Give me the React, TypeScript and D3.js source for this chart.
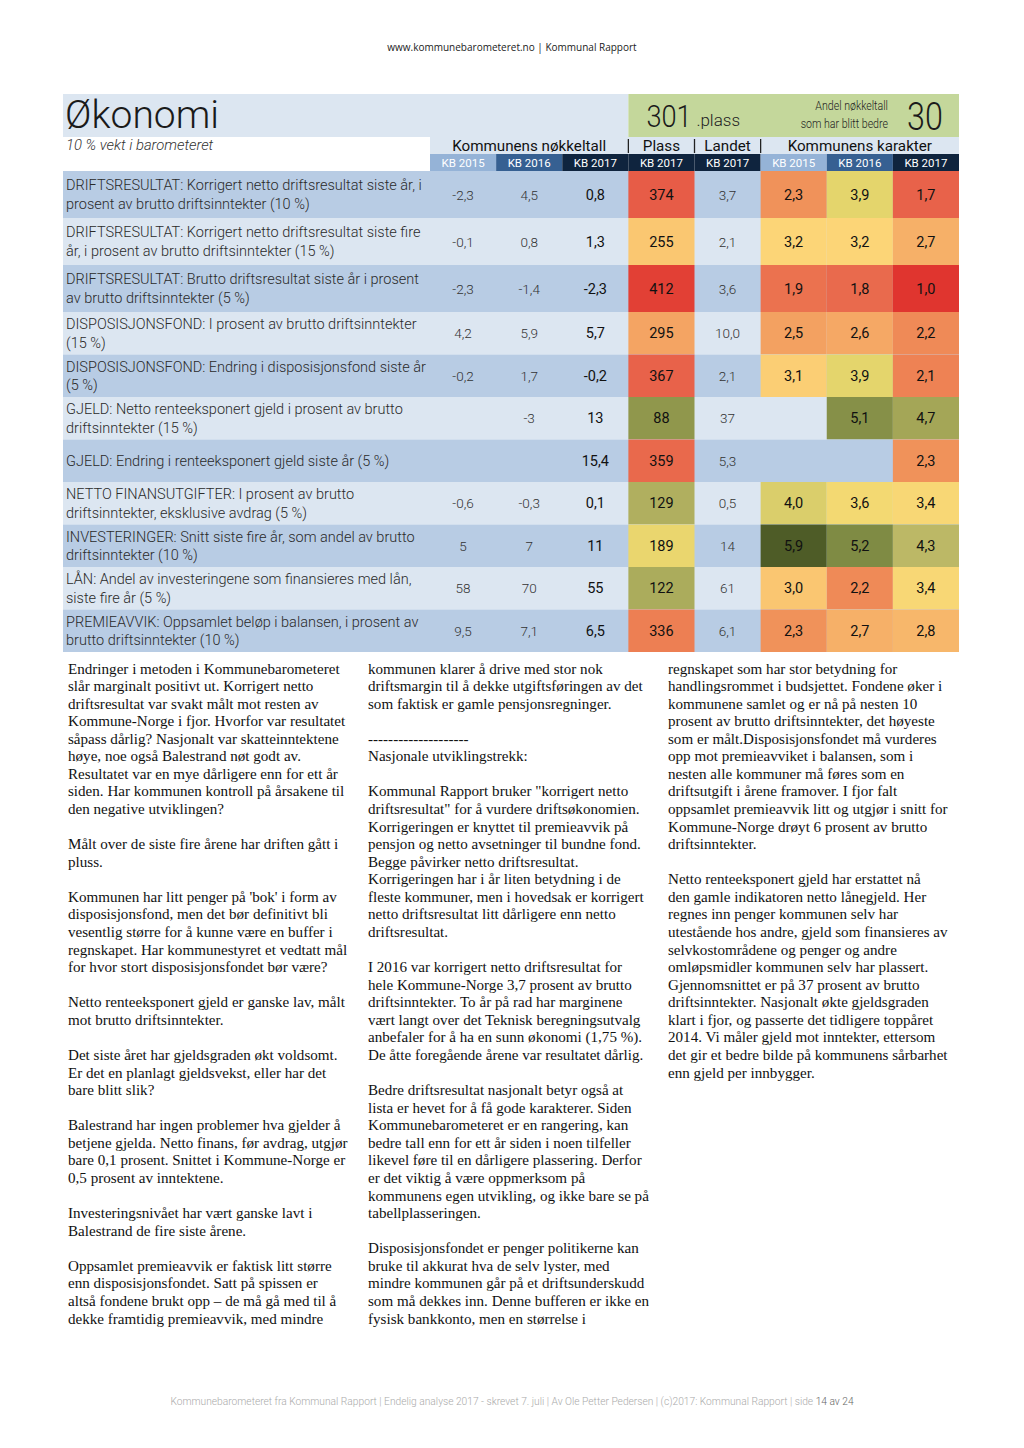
import React from "react";
import * as d3 from "d3";

// ---------- DATA ----------
const pageHeader = "www.kommunebarometeret.no | Kommunal Rapport";
const sectionTitle = "Økonomi";
const weightNote = "10 % vekt i barometeret";
const rankValue = 301;
const rankSuffix = ".plass";
const improvedLabel = ["Andel nøkkeltall", "som har blitt bedre"];
const improvedValue = 30;
const groupHeaders = ["Kommunens nøkkeltall", "Plass", "Landet", "Kommunens karakter"];
const groupSpans = [3, 1, 1, 3];
const columnHeaders = ["KB 2015", "KB 2016", "KB 2017", "KB 2017", "KB 2017", "KB 2015", "KB 2016", "KB 2017"];

const indicatorLabels: string[][] = [
  ["DRIFTSRESULTAT: Korrigert netto driftsresultat siste år, i", "prosent av brutto driftsinntekter (10 %)"],
  ["DRIFTSRESULTAT: Korrigert netto driftsresultat siste fire", "år, i prosent av brutto driftsinntekter (15 %)"],
  ["DRIFTSRESULTAT: Brutto driftsresultat siste år i prosent", "av brutto driftsinntekter (5 %)"],
  ["DISPOSISJONSFOND: I prosent av brutto driftsinntekter", "(15 %)"],
  ["DISPOSISJONSFOND: Endring i disposisjonsfond siste år", "(5 %)"],
  ["GJELD: Netto renteeksponert gjeld i prosent av brutto", "driftsinntekter (15 %)"],
  ["GJELD: Endring i renteeksponert gjeld siste år (5 %)"],
  ["NETTO FINANSUTGIFTER: I prosent av brutto", "driftsinntekter, eksklusive avdrag (5 %)"],
  ["INVESTERINGER: Snitt siste fire år, som andel av brutto", "driftsinntekter (10 %)"],
  ["LÅN: Andel av investeringene som finansieres med lån,", "siste fire år (5 %)"],
  ["PREMIEAVVIK: Oppsamlet beløp i balansen, i prosent av", "brutto driftsinntekter (10 %)"],
];
const valueDecimals = [1, 1, 1, 1, 1, 0, 1, 1, 0, 0, 1];
const nokkel2015: (number | null)[] = [-2.3, -0.1, -2.3, 4.2, -0.2, null, null, -0.6, 5, 58, 9.5];
const nokkel2016: (number | null)[] = [4.5, 0.8, -1.4, 5.9, 1.7, -3, null, -0.3, 7, 70, 7.1];
const nokkel2017: (number | null)[] = [0.8, 1.3, -2.3, 5.7, -0.2, 13, 15.4, 0.1, 11, 55, 6.5];
const plass2017: number[] = [374, 255, 412, 295, 367, 88, 359, 129, 189, 122, 336];
const landet2017: number[] = [3.7, 2.1, 3.6, 10.0, 2.1, 37, 5.3, 0.5, 14, 61, 6.1];
const karakter2015: (number | null)[] = [2.3, 3.2, 1.9, 2.5, 3.1, null, null, 4.0, 5.9, 3.0, 2.3];
const karakter2016: (number | null)[] = [3.9, 3.2, 1.8, 2.6, 3.9, 5.1, null, 3.6, 5.2, 2.2, 2.7];
const karakter2017: (number | null)[] = [1.7, 2.7, 1.0, 2.2, 2.1, 4.7, 2.3, 3.4, 4.3, 3.4, 2.8];
const municipalityCount = 426;

const gradeStops = [1.0, 1.7, 2.2, 2.7, 3.2, 3.6, 3.9, 4.3, 4.7, 5.2, 5.9];
const gradeColors = ["#e0352f", "#e8624a", "#ef8a57", "#f6b068", "#fcd577", "#f3d972", "#e4d56c", "#bcb866", "#a4a657", "#7f8b44", "#4e5c27"];

const column1Text = [
  "Endringer i metoden i Kommunebarometeret",
  "slår marginalt positivt ut. Korrigert netto",
  "driftsresultat var svakt målt mot resten av",
  "Kommune-Norge i fjor. Hvorfor var resultatet",
  "såpass dårlig? Nasjonalt var skatteinntektene",
  "høye, noe også Balestrand nøt godt av.",
  "Resultatet var en mye dårligere enn for ett år",
  "siden. Har kommunen kontroll på årsakene til",
  "den negative utviklingen?",
  "",
  "Målt over de siste fire årene har driften gått i",
  "pluss.",
  "",
  "Kommunen har litt penger på 'bok' i form av",
  "disposisjonsfond, men det bør definitivt bli",
  "vesentlig større for å kunne være en buffer i",
  "regnskapet. Har kommunestyret et vedtatt mål",
  "for hvor stort disposisjonsfondet bør være?",
  "",
  "Netto renteeksponert gjeld er ganske lav, målt",
  "mot brutto driftsinntekter.",
  "",
  "Det siste året har gjeldsgraden økt voldsomt.",
  "Er det en planlagt gjeldsvekst, eller har det",
  "bare blitt slik?",
  "",
  "Balestrand har ingen problemer hva gjelder å",
  "betjene gjelda. Netto finans, før avdrag, utgjør",
  "bare 0,1 prosent. Snittet i Kommune-Norge er",
  "0,5 prosent av inntektene.",
  "",
  "Investeringsnivået har vært ganske lavt i",
  "Balestrand de fire siste årene.",
  "",
  "Oppsamlet premieavvik er faktisk litt større",
  "enn disposisjonsfondet. Satt på spissen er",
  "altså fondene brukt opp – de må gå med til å",
  "dekke framtidig premieavvik, med mindre",
];
const column2Text = [
  "kommunen klarer å drive med stor nok",
  "driftsmargin til å dekke utgiftsføringen av det",
  "som faktisk er gamle pensjonsregninger.",
  "",
  "--------------------",
  "Nasjonale utviklingstrekk:",
  "",
  "Kommunal Rapport bruker \"korrigert netto",
  "driftsresultat\" for å vurdere driftsøkonomien.",
  "Korrigeringen er knyttet til premieavvik på",
  "pensjon og netto avsetninger til bundne fond.",
  "Begge påvirker netto driftsresultat.",
  "Korrigeringen har i år liten betydning i de",
  "fleste kommuner, men i hovedsak er korrigert",
  "netto driftsresultat litt dårligere enn netto",
  "driftsresultat.",
  "",
  "I 2016 var korrigert netto driftsresultat for",
  "hele Kommune-Norge 3,7 prosent av brutto",
  "driftsinntekter. To år på rad har marginene",
  "vært langt over det Teknisk beregningsutvalg",
  "anbefaler for å ha en sunn økonomi (1,75 %).",
  "De åtte foregående årene var resultatet dårlig.",
  "",
  "Bedre driftsresultat nasjonalt betyr også at",
  "lista er hevet for å få gode karakterer. Siden",
  "Kommunebarometeret er en rangering, kan",
  "bedre tall enn for ett år siden i noen tilfeller",
  "likevel føre til en dårligere plassering. Derfor",
  "er det viktig å være oppmerksom på",
  "kommunens egen utvikling, og ikke bare se på",
  "tabellplasseringen.",
  "",
  "Disposisjonsfondet er penger politikerne kan",
  "bruke til akkurat hva de selv lyster, med",
  "mindre kommunen går på et driftsunderskudd",
  "som må dekkes inn. Denne bufferen er ikke en",
  "fysisk bankkonto, men en størrelse i",
];
const column3Text = [
  "regnskapet som har stor betydning for",
  "handlingsrommet i budsjettet. Fondene øker i",
  "kommunene samlet og er nå på nesten 10",
  "prosent av brutto driftsinntekter, det høyeste",
  "som er målt.Disposisjonsfondet må vurderes",
  "opp mot premieavviket i balansen, som i",
  "nesten alle kommuner må føres som en",
  "driftsutgift i årene framover. I fjor falt",
  "oppsamlet premieavvik litt og utgjør i snitt for",
  "Kommune-Norge drøyt 6 prosent av brutto",
  "driftsinntekter.",
  "",
  "Netto renteeksponert gjeld har erstattet nå",
  "den gamle indikatoren netto lånegjeld. Her",
  "regnes inn penger kommunen selv har",
  "utestående hos andre, gjeld som finansieres av",
  "selvkostområdene og penger og andre",
  "omløpsmidler kommunen selv har plassert.",
  "Gjennomsnittet er på 37 prosent av brutto",
  "driftsinntekter. Nasjonalt økte gjeldsgraden",
  "klart i fjor, og passerte det tidligere toppåret",
  "2014. Vi måler gjeld mot inntekter, ettersom",
  "det gir et bedre bilde på kommunens sårbarhet",
  "enn gjeld per innbygger.",
];
const footerText = "Kommunebarometeret fra Kommunal Rapport | Endelig analyse 2017 - skrevet 7. juli | Av Ole Petter Pedersen | (c)2017: Kommunal Rapport | side ";
const footerPage = "14 av 24";

// ---------- LAYOUT ----------
const W = 1024, H = 1448;
const tableLeft = 63, tableRight = 959, dataLeft = 430;
const titleTop = 94, groupTop = 137, subTop = 154, rowsTop = 171, tallEnd = 312, tableBottom = 652;
const tallRows = 3;
const COND = "Roboto, 'Liberation Sans', sans-serif";
const SERIF = "'Liberation Serif', 'DejaVu Serif', serif";

const rowBgDark = "#b8cce4";
const rowBgLight = "#dce6f1";
const headerColors = ["#95b3d7", "#366092", "#0f243e", "#0f243e", "#0f243e", "#95b3d7", "#366092", "#0f243e"];

const fmt = (v: number | null, d: number) =>
  v === null ? "" : d3.format(`.${d}f`)(v).replace(".", ",").replace("−", "-");

export default function App() {
  const n = indicatorLabels.length;
  const x = d3.scaleBand<number>().domain(d3.range(8)).range([dataLeft, tableRight]);
  const gradeColor = d3.scaleLinear<string>().domain(gradeStops).range(gradeColors).clamp(true);
  const plassToGrade = d3.scaleLinear().domain([1, municipalityCount]).range([6, 1]);

  // row geometry
  const yTall = d3.scaleBand<number>().domain(d3.range(tallRows)).range([rowsTop, tallEnd]);
  const yShort = d3.scaleBand<number>().domain(d3.range(tallRows, n)).range([tallEnd, tableBottom]);
  const rowY = (i: number) => (i < tallRows ? yTall(i)! : yShort(i)!);
  const rowH = (i: number) => (i < tallRows ? yTall.bandwidth() : yShort.bandwidth());

  const columns = [nokkel2015, nokkel2016, nokkel2017, plass2017, landet2017, karakter2015, karakter2016, karakter2017];

  let groupStart = 0;
  const groups = groupHeaders.map((g, gi) => {
    const s = groupStart;
    groupStart += groupSpans[gi];
    const x0 = x(s)!;
    const x1 = x(s + groupSpans[gi] - 1)! + x.bandwidth();
    return { g, x0, x1 };
  });

  const lineH = 17.57;
  const textTop = 673.5;
  const textCols = [
    { x: 68, lines: column1Text },
    { x: 368, lines: column2Text },
    { x: 668, lines: column3Text },
  ];

  return (
    <svg width={W} height={H} style={{ position: "absolute", left: 0, top: 0, background: "#fff" }}>
      <rect x={0} y={0} width={W} height={H} fill="#fff" />
      <text x={512} y={51} textAnchor="middle" fontFamily="'Open Sans', sans-serif" fontSize={10} fill="#222">
        {pageHeader}
      </text>

      {/* title band */}
      <rect x={tableLeft} y={titleTop} width={x(3)! - tableLeft} height={groupTop - titleTop} fill={rowBgLight} />
      <rect x={x(3)!} y={titleTop} width={tableRight - x(3)!} height={groupTop - titleTop} fill="#c4d79b" />
      <text x={65} y={128} fontFamily={COND} fontWeight={300} fontSize={39} fill="#1a1a1a">
        {sectionTitle}
      </text>
      <g transform={`translate(${x(3)! + 18},127) scale(0.85,1)`}>
        <text x={0} y={0} fontFamily={COND} fontWeight={300} fontSize={32} fill="#1a1a1a">
          {rankValue}
        </text>
      </g>
      <text x={x(3)! + 68} y={126} fontFamily={COND} fontWeight={300} fontSize={17} fill="#222">
        {rankSuffix}
      </text>
      {improvedLabel.map((t, i) => (
        <g key={t} transform={`translate(888,${110 + i * 18}) scale(0.85,1)`}>
          <text x={0} y={0} textAnchor="end" fontFamily={COND} fontWeight={300} fontSize={12.5} fill="#222">
            {t}
          </text>
        </g>
      ))}
      <g transform={`translate(925,130) scale(0.85,1)`}>
        <text x={0} y={0} textAnchor="middle" fontFamily={COND} fontWeight={300} fontSize={38} fill="#1a1a1a">
          {improvedValue}
        </text>
      </g>

      {/* group header row */}
      <rect x={dataLeft} y={groupTop} width={tableRight - dataLeft} height={subTop - groupTop} fill={rowBgLight} />
      <text x={66} y={150} fontFamily={COND} fontWeight={300} fontStyle="italic" fontSize={14.8} fill="#333">
        {weightNote}
      </text>
      {groups.map((g, i) => (
        <g key={g.g}>
          <text x={(g.x0 + g.x1) / 2} y={151} textAnchor="middle" fontFamily={COND} fontSize={15.2} fill="#111">
            {g.g}
          </text>
          {i > 0 && <line x1={g.x0} x2={g.x0} y1={139} y2={153} stroke="#222" strokeWidth={1.3} />}
        </g>
      ))}

      {/* column header row */}
      {columnHeaders.map((c, j) => (
        <g key={j}>
          <rect x={x(j)!} y={subTop} width={x.bandwidth()} height={rowsTop - subTop} fill={headerColors[j]} />
          <text x={x(j)! + x.bandwidth() / 2} y={167} textAnchor="middle" fontFamily={COND} fontSize={11.5} fill="#fff">
            {c}
          </text>
        </g>
      ))}

      {/* data rows */}
      {indicatorLabels.map((lines, i) => {
        const y0 = rowY(i);
        const h = rowH(i);
        const cy = y0 + h / 2;
        const bg = i % 2 === 0 ? rowBgDark : rowBgLight;
        return (
          <g key={i}>
            <rect x={tableLeft} y={y0} width={tableRight - tableLeft} height={h} fill={bg} />
            {lines.map((l, k) => (
              <text
                key={k}
                x={66}
                y={cy + 5 + (k - (lines.length - 1) / 2) * 18.5}
                fontFamily={COND}
                fontWeight={300}
                fontSize={14.5}
                fill="#2a2a2a"
              >
                {l}
              </text>
            ))}
            {columns.map((col, j) => {
              const v = col[i];
              let fill: string | null = null;
              if (j === 3) fill = gradeColor(plassToGrade(v as number));
              if (j >= 5 && v !== null) fill = gradeColor(v as number);
              const label = j === 3 ? String(v) : j >= 5 ? fmt(v, 1) : fmt(v, valueDecimals[i]);
              const strong = j === 2 || j === 3 || j >= 5;
              return (
                <g key={j}>
                  {fill && <rect x={x(j)!} y={y0} width={x.bandwidth()} height={h} fill={fill} />}
                  <text
                    x={x(j)! + x.bandwidth() / 2}
                    y={cy + 5}
                    textAnchor="middle"
                    fontFamily={COND}
                    fontWeight={strong ? 400 : 300}
                    fontSize={strong ? 14.5 : 13.5}
                    fill={strong ? "#111" : "#333"}
                  >
                    {label}
                  </text>
                </g>
              );
            })}
          </g>
        );
      })}

      {/* body text */}
      {textCols.map((c, ci) => (
        <g key={ci}>
          {c.lines.map((l, li) =>
            l ? (
              <text key={li} x={c.x} y={textTop + li * lineH} fontFamily={SERIF} fontSize={15.1} fill="#111">
                {l}
              </text>
            ) : null
          )}
        </g>
      ))}

      {/* footer */}
      <g transform={`translate(512,1405) scale(0.93,1)`}>
        <text x={0} y={0} textAnchor="middle" fontFamily={COND} fontWeight={300} fontSize={11} fill="#aaa">
          {footerText}
          <tspan fill="#666">{footerPage}</tspan>
        </text>
      </g>
    </svg>
  );
}
